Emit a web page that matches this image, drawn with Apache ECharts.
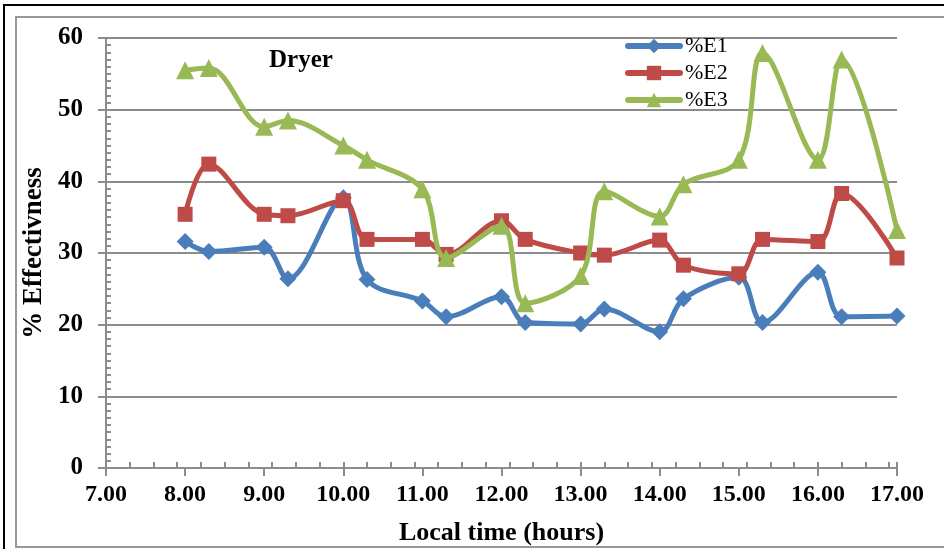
<!DOCTYPE html>
<html>
<head>
<meta charset="utf-8">
<script src="https://cdn.jsdelivr.net/npm/echarts@6/dist/echarts.min.js"></script>
<style>
  html, body { margin: 0; padding: 0; background: #fff; }
  #chart { width: 944px; height: 549px; }
</style>
</head>
<body>
<div id="chart"></div>
<script>
// Measurement times (decimal hours)
const times = [8.0, 8.3, 9.0, 9.3, 10.0, 10.3, 11.0, 11.3, 12.0, 12.3, 13.0, 13.3, 14.0, 14.3, 15.0, 15.3, 16.0, 16.3, 17.0];
// Effectiveness values (%)
const e1 = [31.6, 30.2, 30.8, 26.4, 37.7, 26.3, 23.3, 21.1, 23.9, 20.3, 20.1, 22.2, 19.0, 23.6, 26.6, 20.3, 27.3, 21.1, 21.2];
const e2 = [35.4, 42.4, 35.4, 35.2, 37.3, 31.9, 31.9, 29.8, 34.5, 31.9, 30.0, 29.7, 31.8, 28.3, 27.1, 31.9, 31.6, 38.3, 29.3];
const e3 = [55.5, 55.8, 47.6, 48.5, 45.0, 43.0, 38.9, 29.3, 33.8, 23.0, 26.8, 38.6, 35.1, 39.6, 43.0, 57.9, 43.0, 57.0, 33.2];
const seriesNames = ['%E1', '%E2', '%E3'];
const colors = ['#4a7ebb', '#be4b48', '#98b954'];
const symbols = ['diamond', 'rect', 'triangle'];
const symbolSizes = [17, 15, 18];

const serif = '"Liberation Serif", "Times New Roman", serif';
const gridGray = '#8c8c8c';

const pairs = arr => arr.map((v, i) => [times[i], v]);

const chart = echarts.init(document.getElementById('chart'), null, { renderer: 'canvas' });

chart.setOption({
  backgroundColor: '#fff',
  animation: false,
  graphic: [
    { type: 'rect', shape: { x: 4, y: 5, width: 1000, height: 1000 }, style: { fill: 'none', stroke: '#000', lineWidth: 2 } },
    { type: 'rect', shape: { x: 16, y: 17, width: 1000, height: 530 }, style: { fill: 'none', stroke: '#999', lineWidth: 2 } }
  ],
  title: {
    text: 'Dryer',
    left: 264, top: 43,
    textStyle: { fontFamily: serif, fontWeight: 'bold', fontSize: 25, color: '#000' }
  },
  legend: {
    orient: 'vertical',
    left: 620, top: 30,
    itemWidth: 52, itemHeight: 18, itemGap: 5,
    data: seriesNames,
    lineStyle: { width: 6, cap: 'round' },
    textStyle: { fontFamily: serif, fontSize: 22, color: '#000', padding: [0, 0, 0, 0] }
  },
  grid: { left: 106, right: 47, top: 38, bottom: 81, containLabel: false, outerBoundsMode: 'none' },
  xAxis: [
    {
      type: 'value', min: 7, max: 17, interval: 1,
      name: 'Local time (hours)', nameLocation: 'middle', nameGap: 52,
      nameTextStyle: { fontFamily: serif, fontWeight: 'bold', fontSize: 26, color: '#000' },
      axisLine: { show: true, lineStyle: { color: gridGray, width: 2 } },
      axisTick: { show: true, inside: false, length: 8, lineStyle: { color: gridGray, width: 2 } },
      axisLabel: { fontFamily: serif, fontWeight: 'bold', fontSize: 24, color: '#000', margin: 15,
                   formatter: v => v.toFixed(2) },
      splitLine: { show: false }
    },
    {
      type: 'value', min: 7, max: 17, interval: 0.3, position: 'bottom',
      axisLine: { show: false },
      axisTick: { show: true, inside: true, length: 6, lineStyle: { color: gridGray, width: 2 } },
      axisLabel: { show: false },
      splitLine: { show: false }
    }
  ],
  yAxis: [
    {
      type: 'value', min: 0, max: 60, interval: 10,
      name: '% Effectivness', nameLocation: 'middle', nameGap: 57, nameRotate: 90,
      nameTextStyle: { fontFamily: serif, fontWeight: 'bold', fontSize: 27, color: '#000' },
      axisLine: { show: true, lineStyle: { color: gridGray, width: 2 } },
      axisTick: { show: true, inside: false, length: 8, lineStyle: { color: gridGray, width: 2 } },
      axisLabel: { fontFamily: serif, fontWeight: 'bold', fontSize: 25, color: '#000', margin: 23 },
      splitLine: { show: true, lineStyle: { color: gridGray, width: 2 } }
    },
    {
      type: 'value', min: 0, max: 60, interval: 1, position: 'left',
      axisLine: { show: false },
      axisTick: { show: true, inside: true, length: 5, lineStyle: { color: gridGray, width: 2 } },
      axisLabel: { show: false },
      splitLine: { show: false }
    }
  ],
  series: [e1, e2, e3].map((arr, i) => ({
    name: seriesNames[i],
    type: 'line',
    xAxisIndex: 0, yAxisIndex: 0,
    data: pairs(arr),
    smooth: 0.35,
    symbol: symbols[i],
    symbolSize: symbolSizes[i],
    showSymbol: true,
    color: colors[i],
    lineStyle: { color: colors[i], width: 5 },
    itemStyle: { color: colors[i] },
    z: 3 + i
  }))
});
</script>
</body>
</html>
